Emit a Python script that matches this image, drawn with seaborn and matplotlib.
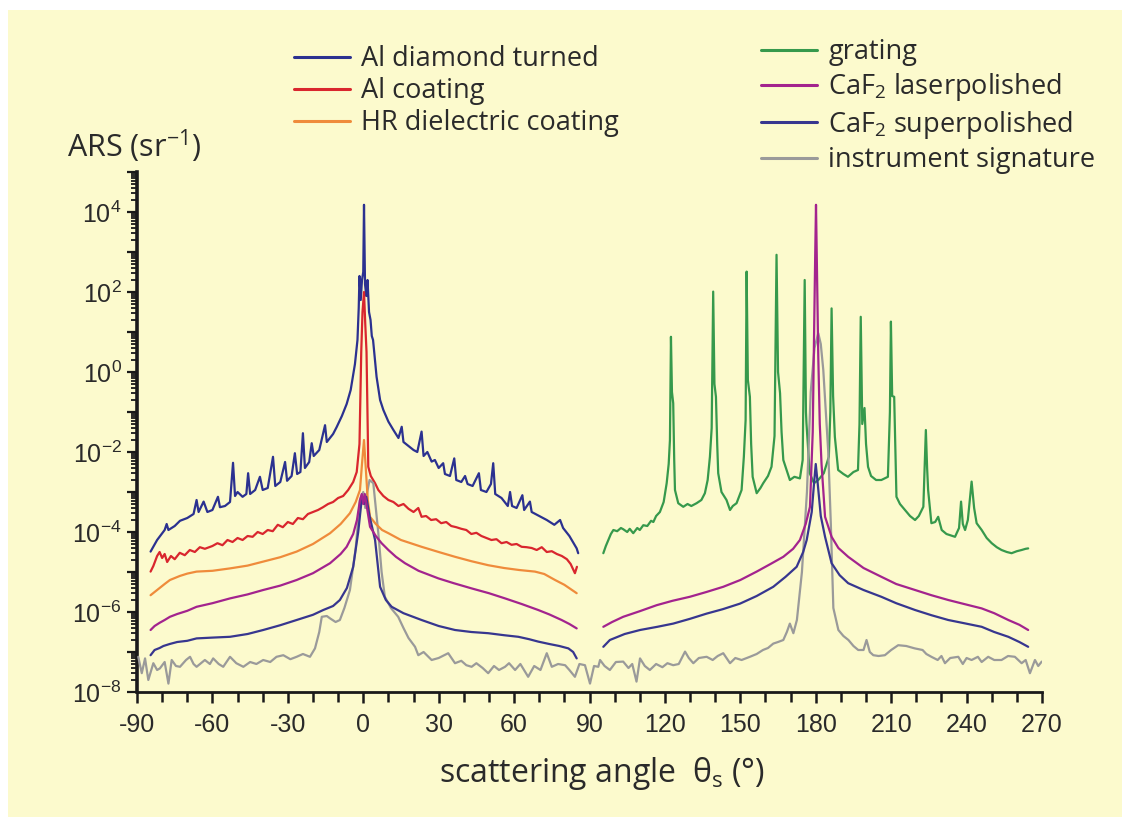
import numpy as np
import pandas as pd
import matplotlib
matplotlib.use("Agg")
import matplotlib.pyplot as plt
import matplotlib.ticker as mticker
from matplotlib.lines import Line2D
from matplotlib.patches import Rectangle
import seaborn as sns

sns.set_theme(style="ticks")
plt.rcParams["font.family"] = ["Open Sans", "DejaVu Sans"]
plt.rcParams["mathtext.fontset"] = "custom"
plt.rcParams["mathtext.rm"] = "Open Sans"
plt.rcParams["mathtext.it"] = "Open Sans:italic"
plt.rcParams["mathtext.bf"] = "Open Sans:bold"

# ---------------- data (angle in deg, log10 of ARS in 1/sr) ----------------
al_dt_x = [-84.6, -82, -79, -78.2, -77.5, -75, -72.9, -70, -67.5, -66.3, -65.5, -63.5, -62, -60,
           -57.8, -57, -55, -53, -51.8, -51, -50, -48, -46.5, -45.8, -45, -43, -41.1, -40, -38,
           -35.9, -35, -33, -31.1, -30.3, -28.5, -27.2, -26.3, -25, -24, -23.2, -21.5, -20.5,
           -19.7, -17.5, -15.2, -14.5, -12, -10.6, -8.5, -6.6, -5, -3.3, -2.3, -1.8, -1.5, -1.0,
           -0.5, 0.0, 0.3, 0.7, 1.2, 1.7, 2.3, 2.9, 3.4, 3.9, 5.3, 6.7, 8, 10, 12, 14, 15.3, 16,
           18, 20, 21.5, 23.2, 24, 25.5, 27.2, 28.5, 30, 31.8, 32.5, 34.5, 36.2, 37, 39, 40.5,
           41.5, 43.5, 46, 46.8, 49, 50.8, 51.7, 52.5, 55, 57.5, 58.4, 59.2, 61, 63.3, 64, 66.3,
           67, 70, 73, 76, 78.3, 79.5, 82, 84.9, 85.5]
al_dt_log = [-4.49, -4.2, -3.95, -3.8, -3.95, -3.85, -3.72, -3.65, -3.55, -3.2, -3.5, -3.24, -3.5,
             -3.45, -3.12, -3.38, -3.35, -3.25, -2.27, -3.1, -3.0, -3.12, -3.05, -2.53, -3.05,
             -2.95, -2.62, -2.95, -2.9, -2.12, -2.85, -2.75, -2.25, -2.72, -2.6, -2.03, -2.55,
             -2.5, -1.53, -2.4, -2.25, -1.78, -2.1, -1.95, -1.33, -1.75, -1.55, -1.38, -1.1,
             -0.8, -0.45, 0.2, 0.8, 1.6, 2.4, 1.8, 2.3, 2.5, 4.18, 2.2, 1.9, 2.3, 1.5, 1.3, 0.9,
             0.8, -0.12, -0.7, -0.95, -1.24, -1.45, -1.65, -1.37, -1.75, -1.85, -1.95, -2.0,
             -1.49, -2.1, -2.0, -2.24, -2.2, -2.4, -2.28, -2.55, -2.6, -2.16, -2.7, -2.75, -2.6,
             -2.8, -2.85, -2.53, -2.95, -3.0, -2.8, -2.28, -3.05, -3.15, -3.35, -3.0, -3.35,
             -3.4, -3.08, -3.45, -3.24, -3.5, -3.6, -3.7, -3.82, -3.7, -3.9, -4.1, -4.41, -4.53]

al_coat_x = [-84.6, -83.5, -82, -81, -80, -79, -78, -76.5, -75, -73, -71, -69, -67, -65, -63, -60,
             -58, -56, -54, -52, -50, -48, -46, -44, -42, -40, -38, -36, -34, -32, -30, -28, -26,
             -24, -22, -20, -18, -16, -14, -12, -10, -8, -6, -4, -2.6, -1.5, -0.8, -0.3, 0.3, 0.8,
             1.3, 1.8, 2.0, 3, 4.7, 6, 8, 10, 12, 14, 16, 18, 20, 21.9, 23.2, 25, 27, 29, 31, 33,
             35, 37, 39, 41, 43, 45, 47, 49, 51, 53, 55, 57, 59, 61, 63, 65, 67, 69, 71, 73, 75,
             77, 79, 81, 82.5, 84.2, 85]
al_coat_log = [-4.99, -4.85, -4.6, -4.5, -4.65, -4.55, -4.75, -4.6, -4.68, -4.52, -4.58, -4.45,
               -4.5, -4.38, -4.42, -4.35, -4.28, -4.33, -4.2, -4.25, -4.15, -4.2, -4.1, -4.12,
               -4.0, -4.05, -3.95, -3.98, -3.82, -3.88, -3.75, -3.8, -3.65, -3.68, -3.55, -3.5,
               -3.45, -3.38, -3.3, -3.25, -3.15, -3.1, -2.95, -2.75, -2.5, -1.8, 0.5, 1.5, 2.0,
               1.2, 0.5, -1.5, -2.37, -2.6, -2.78, -2.95, -3.1, -3.2, -3.25, -3.35, -3.3, -3.42,
               -3.5, -3.4, -3.62, -3.6, -3.7, -3.68, -3.78, -3.75, -3.85, -3.88, -3.92, -3.95,
               -4.05, -4.02, -4.1, -4.15, -4.2, -4.18, -4.28, -4.25, -4.32, -4.3, -4.37, -4.38,
               -4.4, -4.45, -4.38, -4.5, -4.48, -4.55, -4.6, -4.68, -4.8, -5.03, -4.87]

hr_x = [-84.6, -82, -79, -76.9, -73, -70, -66.3, -60, -53, -46, -39.8, -33, -26.5, -20, -13.2, -9,
        -5.3, -3, -1.3, -0.5, 0.3, 1.0, 1.8, 2.7, 5, 7.5, 10, 15, 23.2, 30, 36.5, 43, 49.7, 56, 62,
        68.3, 72, 76.3, 80, 84.9]
hr_log = [-5.58, -5.45, -5.3, -5.2, -5.1, -5.04, -4.99, -4.97, -4.91, -4.84, -4.74, -4.63, -4.49,
          -4.3, -4.03, -3.8, -3.53, -3.25, -2.95, -2.3, -1.7, -2.4, -3.2, -3.62, -3.8, -3.95,
          -4.03, -4.2, -4.37, -4.5, -4.62, -4.73, -4.83, -4.9, -4.95, -4.99, -5.05, -5.2, -5.32,
          -5.53]

grating_x = [95.5, 96.5, 97.5, 98.5, 99.5, 101, 102.5, 103.4, 105, 106, 107.4, 109, 110, 111.4, 113,
             114.5, 115.4, 116.5, 118, 119.5, 120.7, 121.5, 122, 122.4, 122.8, 123.3, 123.7, 124,
             125.3, 127.3, 129, 130.5, 132.6, 134.5, 135.9, 137, 137.9, 138.6, 139.2, 139.7, 140.3,
             140.8, 141.2, 142.5, 144.5, 145.9, 147, 148.5, 150.5, 151.4, 152.1, 152.5, 153, 153.8,
             154.3, 154.9, 156.5, 158, 159.1, 161, 162.4, 163.6, 164.4, 165, 165.8, 166.4, 167.1,
             169.7, 171.5, 173.7, 174.8, 175.6, 176.1, 176.3, 177.6, 179.3, 181, 183.2, 185.2,
             185.8, 186.3, 186.9, 187.6, 188.9, 191, 192.8, 195, 196.8, 197.4, 197.9, 198.5, 199.4,
             200, 200.8, 202, 204, 206.1, 208.7, 209.5, 209.9, 210.4, 211.2, 211.7, 212.1, 213.5,
             215.5, 217.5, 219.5, 221, 222.8, 223.8, 224.3, 224.7, 226, 227.5, 228.7, 230.1, 232,
             235.4, 237, 237.8, 238.5, 239.4, 240.5, 242, 243, 244, 246, 248, 250, 252, 253.9, 256,
             257.9, 260, 261.9, 263.5, 264.5]
grating_log = [-4.53, -4.35, -4.2, -4.05, -3.95, -3.98, -3.9, -3.93, -4.0, -3.92, -4.03, -3.9,
               -3.95, -3.83, -3.85, -3.72, -3.75, -3.6, -3.5, -3.25, -2.78, -2.3, -1.7, 0.88, -0.5,
               -0.78, -2.2, -2.95, -3.28, -3.37, -3.3, -3.35, -3.28, -3.2, -3.03, -2.7, -2.12,
               -1.4, 2.01, -0.3, -0.62, -1.8, -2.53, -3.0, -3.2, -3.45, -3.35, -3.28, -2.95, -2.12,
               -1.2, 2.51, -0.2, -0.62, -1.8, -2.62, -3.03, -2.9, -2.78, -2.6, -2.37, -1.6, 2.93,
               0.0, -0.53, -1.5, -2.2, -2.7, -2.62, -2.66, -2.2, 2.3, -1.0, -1.28, -2.53, -2.78,
               -2.7, -2.53, -2.12, -1.0, 1.59, -0.6, -1.62, -2.45, -2.55, -2.62, -2.5, -2.45, -1.3,
               1.38, -1.3, -0.9, -1.8, -2.37, -2.6, -2.7, -2.7, -2.62, -1.0, 1.26, -0.6, -0.62,
               -2.0, -3.12, -3.3, -3.45, -3.6, -3.7, -3.6, -3.37, -1.45, -2.4, -2.95, -3.78, -3.75,
               -3.62, -3.95, -4.05, -4.12, -3.9, -3.24, -3.8, -3.95, -3.7, -2.74, -3.4, -3.78,
               -3.95, -4.15, -4.28, -4.38, -4.45, -4.5, -4.53, -4.48, -4.45, -4.42, -4.41]

caf2_laser_left_x = [-84.6, -83, -81, -79, -76.9, -74, -70, -66.3, -60, -53, -46, -39.8, -33, -26.5,
                     -20, -13.2, -9, -6.6, -4, -2.5, -1.3, -0.6, 0, 0.6, 1.5, 2.7, 5, 7.3, 10, 13,
                     16.6, 22, 29.9, 36, 43.1, 50, 56.4, 63, 69.6, 74, 78.9, 82, 84.9]
caf2_laser_left_log = [-6.45, -6.35, -6.27, -6.2, -6.12, -6.05, -5.97, -5.87, -5.78, -5.66, -5.56,
                       -5.45, -5.34, -5.2, -5.03, -4.78, -4.55, -4.37, -4.05, -3.7, -3.2, -3.05,
                       -3.3, -3.05, -3.4, -3.87, -4.1, -4.28, -4.45, -4.62, -4.78, -4.97, -5.16,
                       -5.28, -5.41, -5.53, -5.66, -5.8, -5.95, -6.06, -6.2, -6.3, -6.41]
caf2_laser_right_x = [95.5, 99, 103.4, 110, 116.7, 123, 129.9, 136.5, 143.2, 150, 156.5, 162, 167.1,
                      171, 173.7, 176, 177.7, 178.8, 179.3, 179.8, 180.1, 180.5, 181, 181.6, 182.3,
                      183.7, 186.3, 189, 192.9, 199, 206.1, 212, 219.5, 226, 232.7, 239, 246, 251,
                      256.6, 261, 264.5]
caf2_laser_right_log = [-6.37, -6.25, -6.12, -5.98, -5.83, -5.72, -5.62, -5.5, -5.37, -5.2, -4.99,
                        -4.8, -4.62, -4.42, -4.2, -3.8, -3.37, -1.5, 0.8, 3.0, 4.18, 2.5, 0.4,
                        -1.3, -2.3, -3.62, -4.12, -4.4, -4.62, -4.9, -5.12, -5.3, -5.45, -5.58,
                        -5.7, -5.8, -5.91, -6.03, -6.2, -6.32, -6.45]

caf2_super_left_x = [-84.6, -83, -81, -79.5, -77, -74, -70, -66.3, -60, -53, -46, -39.8, -33, -26.5,
                     -20, -15.9, -12, -9.3, -6.5, -4, -2, -0.5, 0.3, 1.2, 2.5, 4.7, 6.7, 9, 11.3,
                     16, 23.2, 30, 36.5, 43, 49.7, 56, 61.7, 66, 69.6, 74, 78, 81.6, 83.5, 84.9]
caf2_super_left_log = [-7.08, -6.95, -6.9, -6.85, -6.8, -6.75, -6.72, -6.66, -6.64, -6.62, -6.55,
                       -6.45, -6.33, -6.2, -6.07, -5.95, -5.85, -5.7, -5.4, -4.87, -4.0, -3.12,
                       -3.3, -3.12, -3.6, -4.2, -5.37, -5.7, -5.87, -6.03, -6.2, -6.35, -6.45,
                       -6.5, -6.53, -6.58, -6.62, -6.68, -6.74, -6.8, -6.85, -6.91, -7.0, -7.16]
caf2_super_right_x = [95.5, 98.1, 104, 110.1, 117, 123.3, 130, 136.6, 143, 149.9, 156.5, 163.1, 168,
                      172.4, 175, 176.4, 178.4, 179.3, 180.0, 180.8, 182.0, 183.7, 186.3, 189.5,
                      192.9, 199, 206.1, 212, 219.5, 226, 232.7, 239, 246, 251, 256.6, 261, 264.5]
caf2_super_right_log = [-6.87, -6.7, -6.55, -6.45, -6.37, -6.29, -6.17, -6.04, -5.93, -5.79, -5.6,
                        -5.37, -5.12, -4.87, -4.5, -4.2, -3.5, -2.8, -2.3, -2.8, -3.6, -4.12,
                        -4.78, -5.08, -5.28, -5.45, -5.62, -5.78, -5.95, -6.08, -6.2, -6.28,
                        -6.37, -6.5, -6.62, -6.75, -6.87]

instr_x = [-89.5, -88.1, -86.8, -85.5, -83.5, -82, -80.9, -79, -77.5, -76.2, -74.5, -72.9, -70.5,
           -68.9, -67.5, -66.3, -63, -61, -59.7, -57.5, -55.7, -53, -50.5, -47.7, -45, -42.5,
           -39.8, -37, -34.5, -31.8, -29, -26.5, -24, -21.2, -19.2, -17.5, -16.5, -14.5, -13.2,
           -11, -9.3, -7.5, -5.3, -3, -1.3, 0, 0.8, 1.6, 2.5, 4, 5, 6, 7.3, 8.6, 11, 13.9, 16, 18,
           20.6, 21.9, 24, 27.2, 30, 33.8, 36.5, 39, 41, 43.1, 45, 47.5, 49.7, 52, 54, 56.4, 58,
           60.4, 62.5, 65.6, 68, 70.5, 73, 75, 77.5, 80.3, 82, 84.2, 86, 88.2, 90.2, 91.8, 93.5,
           94.2, 96, 98.1, 100.5, 103.4, 105.5, 107, 108.7, 110.1, 112, 114, 116.5, 119, 121,
           123.3, 125.5, 128, 129.5, 131.3, 133.5, 136.6, 139, 141, 143.2, 145.9, 148, 150.5,
           153.8, 156.5, 159, 161, 163.1, 165, 167.1, 168.5, 169.7, 171.1, 172.5, 174.5, 176.5,
           178, 179.5, 181, 182, 183, 184, 185, 186, 187, 189, 191, 193, 195, 196.9, 199, 200.2,
           201.5, 202.9, 205, 207.5, 210, 212.8, 216, 219.4, 222.5, 224, 226, 228.5, 230, 231.4,
           233.5, 236.7, 238.5, 240, 242, 244.5, 246, 248.6, 251, 253.9, 256.5, 259.2, 261.9,
           263.5, 265.2, 267.2, 268.5, 269.9]
instr_log = [-7.12, -7.53, -7.16, -7.7, -7.28, -7.45, -7.41, -7.25, -7.79, -7.2, -7.35, -7.37, -7.2,
             -7.12, -7.3, -7.37, -7.2, -7.3, -7.16, -7.3, -7.37, -7.12, -7.28, -7.37, -7.25, -7.3,
             -7.2, -7.25, -7.12, -7.08, -7.18, -7.12, -7.05, -7.12, -6.91, -6.5, -6.12, -6.1,
             -6.16, -6.25, -6.2, -5.9, -5.45, -4.4, -3.2, -3.0, -3.4, -3.0, -2.7, -2.78, -3.4,
             -4.03, -5.0, -5.62, -5.9, -6.12, -6.4, -6.65, -6.87, -7.08, -7.0, -7.2, -7.15, -7.03,
             -7.28, -7.22, -7.33, -7.37, -7.28, -7.4, -7.53, -7.35, -7.45, -7.37, -7.28, -7.45,
             -7.3, -7.62, -7.35, -7.45, -7.03, -7.37, -7.3, -7.33, -7.45, -7.62, -7.3, -7.33,
             -7.79, -7.35, -7.37, -7.2, -7.35, -7.45, -7.25, -7.24, -7.4, -7.3, -7.74, -7.16,
             -7.35, -7.45, -7.3, -7.38, -7.28, -7.33, -7.3, -6.99, -7.15, -7.28, -7.15, -7.12,
             -7.2, -7.1, -7.03, -7.28, -7.15, -7.2, -7.12, -7.05, -6.95, -6.9, -6.79, -6.75, -6.7,
             -6.5, -6.29, -6.53, -6.2, -5.0, -3.0, -0.5, 0.6, 0.97, 0.7, 0.05, -1.0, -2.03, -3.8,
             -5.9, -6.45, -6.6, -6.7, -6.85, -6.95, -6.95, -6.7, -7.0, -7.08, -7.1, -7.08, -6.95,
             -6.83, -6.85, -6.91, -6.95, -7.05, -7.12, -7.2, -7.1, -7.28, -7.15, -7.12, -7.3,
             -7.15, -7.2, -7.12, -7.25, -7.12, -7.2, -7.2, -7.1, -7.12, -7.28, -7.2, -7.53, -7.2,
             -7.35, -7.24]

legend_left = ["Al diamond turned", "Al coating", "HR dielectric coating"]
legend_right = ["grating", "CaF$_{\\mathdefault{2}}$ laserpolished",
                "CaF$_{\\mathdefault{2}}$ superpolished", "instrument signature"]
x_tick_values = [-90, -60, -30, 0, 30, 60, 90, 120, 150, 180, 210, 240, 270]
y_decades = list(range(-8, 6))

# ---------------- styling ----------------
BG = "#FCFACD"
C_ALDT = "#2B3190"
C_ALC = "#D9262E"
C_HR = "#EF8B3B"
C_GRAT = "#36994C"
C_LASER = "#A3238E"
C_SUPER = "#37368F"
C_INSTR = "#9A9A9A"
TXT = "#2A2A2A"

fig = plt.figure(figsize=(11.3, 8.27), dpi=100, facecolor="white")
fig.patches.append(Rectangle((8 / 1130, 10 / 827), 1114 / 1130, 807 / 827,
                             transform=fig.transFigure, facecolor=BG, edgecolor="none", zorder=-5))
ax = fig.add_axes([137 / 1130, 135 / 827, 905 / 1130, 520 / 827])
ax.set_facecolor("none")
ax.set_yscale("log")


def draw(xs, logs, color, z):
    df = pd.DataFrame({"angle": xs, "ars": np.power(10.0, np.asarray(logs, dtype=float))})
    sns.lineplot(data=df, x="angle", y="ars", color=color, lw=1.6, ax=ax,
                 estimator=None, sort=False, zorder=z, legend=False)


draw(al_dt_x, al_dt_log, C_ALDT, 2)
draw(al_coat_x, al_coat_log, C_ALC, 3)
draw(hr_x, hr_log, C_HR, 4)
draw(grating_x, grating_log, C_GRAT, 2)
draw(instr_x, instr_log, C_INSTR, 3)
draw(caf2_super_left_x, caf2_super_left_log, C_SUPER, 4)
draw(caf2_super_right_x, caf2_super_right_log, C_SUPER, 4)
draw(caf2_laser_left_x, caf2_laser_left_log, C_LASER, 5)
draw(caf2_laser_right_x, caf2_laser_right_log, C_LASER, 5)

ax.set_xlim(-90, 270)
ax.set_ylim(1e-8, 1e5)
ax.set_xlabel("")
ax.set_ylabel("")

ax.set_xticks(x_tick_values)
ax.set_xticklabels([str(v) for v in x_tick_values], fontfamily="Liberation Sans",
                   fontsize=18, color=TXT)
ax.set_xticks(np.arange(-90, 271, 10), minor=True)

ax.set_yticks([10.0 ** k for k in y_decades])
ax.set_yticklabels([("$\\mathdefault{10^{%d}}$" % k) if (k % 2 == 0 and k < 5) else ""
                    for k in y_decades], fontfamily="Liberation Sans", fontsize=18, color=TXT)
ax.yaxis.set_minor_locator(mticker.LogLocator(base=10, subs=np.arange(2, 10), numticks=100))
ax.yaxis.set_minor_formatter(mticker.NullFormatter())

for s in ("top", "right"):
    ax.spines[s].set_visible(False)
ax.spines["left"].set_linewidth(2.6)
ax.spines["bottom"].set_linewidth(2.0)
ax.spines["left"].set_color("#1a1a1a")
ax.spines["bottom"].set_color("#1a1a1a")
ax.tick_params(axis="x", which="major", direction="out", length=8, width=1.8, pad=7, color="#1a1a1a")
ax.tick_params(axis="x", which="minor", direction="out", length=7, width=1.8, color="#1a1a1a")
ax.tick_params(axis="y", which="major", direction="out", length=7, width=1.6, pad=4, color="#1a1a1a")
ax.tick_params(axis="y", which="minor", direction="out", length=4, width=1.3, color="#1a1a1a")
ax.grid(False)

# legends
h_left = [Line2D([], [], color=c, lw=2.2) for c in (C_ALDT, C_ALC, C_HR)]
h_right = [Line2D([], [], color=c, lw=2.2) for c in (C_GRAT, C_LASER, C_SUPER, C_INSTR)]
common = dict(loc="upper left", frameon=False, fontsize=19.5, handlelength=2.07,
              handletextpad=0.42, borderaxespad=0, borderpad=0, labelcolor=TXT)
fig.legend(h_left, legend_left, bbox_to_anchor=(294 / 1130, 1 - 45 / 827),
           labelspacing=0.15, **common)
fig.legend(h_right, legend_right, bbox_to_anchor=(761 / 1130, 1 - 38 / 827),
           labelspacing=0.2, **common)

fig.text(67 / 1130, 1 - 146 / 827, "ARS (sr$^{\\mathdefault{-1}}$)", fontsize=22, va="center",
         color=TXT)
fig.text(602 / 1130, 1 - 773 / 827, "scattering angle  θ$_{\\mathdefault{s}}$ (°)", fontsize=23,
         ha="center", va="center", color=TXT)

fig.savefig("out.png", dpi=100, facecolor="white")
